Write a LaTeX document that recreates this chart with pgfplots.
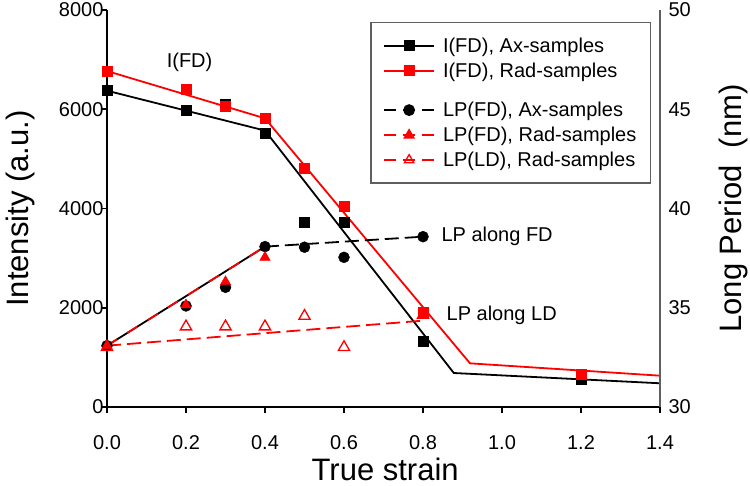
\documentclass[border=0pt]{standalone}
\usepackage{pgfplots}
\pgfplotsset{compat=1.18}
\usepackage{fontspec}
\setmainfont{Liberation Sans}
\definecolor{rd}{RGB}{255,0,0}
\definecolor{axgrey}{RGB}{95,95,95}
\begin{document}
\begin{tikzpicture}[font=\fontsize{20bp}{24bp}\selectfont]
\pgfplotsset{
  base/.style={
    width=553bp, height=397bp, scale only axis,
    at={(0,0)}, anchor=south west,
    xmin=0, xmax=1.4,
    /pgf/number format/assume math mode=true,
    /pgf/number format/1000 sep={},
    tick label style={font=\fontsize{20bp}{24bp}\selectfont},
    clip=false,
    tick align=outside,
    scaled ticks=false,
  },
}
\begin{axis}[base,
  axis x line*=bottom, axis y line*=left,
  ymin=0, ymax=8000,
  ytick={0,2000,4000,6000,8000},
  xtick={0,0.2,0.4,0.6,0.8,1.0,1.2,1.4},
  xticklabel style={/pgf/number format/fixed,/pgf/number format/fixed zerofill,/pgf/number format/precision=1, yshift=-19bp},
  yticklabel style={xshift=6bp},
  major tick length=6bp,
  tick style={line width=1.5bp, black},
  axis line style={line width=1.8bp, black},
  xlabel={True strain},
  ylabel={Intensity (a.u.)},
  every axis x label/.style={at={(axis description cs:0.503,-0.158)},anchor=center,font=\fontsize{31bp}{36bp}\selectfont},
  every axis y label/.style={at={(axis description cs:-0.157,0.5)},anchor=center,rotate=90,font=\fontsize{31bp}{36bp}\selectfont},
]
\addplot[black, line width=1.8bp, forget plot] coordinates {(0,6374)(0.4,5570)(0.878,685)(1.4,478)};
\addplot[rd, line width=1.8bp, forget plot] coordinates {(0,6770)(0.4,5817)(0.919,880)(1.4,631)};
\addplot[only marks, mark=square*, mark size=5bp, black, forget plot] coordinates {
(0,6374)(0.2,5985)(0.3,6110)(0.4,5527)(0.5,3734)(0.6,3734)(0.8,1316)(1.2,564)};
\addplot[only marks, mark=square*, mark size=5bp, rd, forget plot] coordinates {
(0,6770)(0.2,6408)(0.3,6065)(0.4,5817)(0.5,4822)(0.6,4056)(0.8,1920)(1.2,665)};
\node[anchor=center] at (axis cs:0.209,6952) {I(FD)};
\node[anchor=base west] at (axis cs:0.838,3345) {LP along FD};
\node[anchor=base west] at (axis cs:0.851,1753) {LP along LD};
\end{axis}
\begin{axis}[base,
  axis y line*=right, axis x line=none,
  ymin=30, ymax=50, ytick={30,35,40,45,50},
  major tick length=0pt,
  yticklabel style={xshift=5bp},
  y axis line style={draw=axgrey, line width=1.5bp},
  ylabel={Long Period\ \ (nm)},
  every axis y label/.style={at={(axis description cs:1.132,0.5)},anchor=center,rotate=90,font=\fontsize{31bp}{36bp}\selectfont},
  legend style={at={(axis description cs:0.984,0.970)}, anchor=north east,
    draw=axgrey, line width=1.5bp, font=\fontsize{20bp}{24bp}\selectfont,
    inner xsep=12bp, inner ysep=13bp, row sep=5bp, column sep=6bp,
    nodes={inner sep=2bp}, cells={anchor=west}},
  legend image code/.code={\draw[mark repeat=2,mark phase=2,#1] plot coordinates {(0bp,0bp)(25bp,0bp)(50bp,0bp)};},
]
% LP(FD) Ax line
\addplot[black, line width=1.8bp, forget plot] coordinates {(0,33.09)(0.4,38.08)};
\addplot[black, line width=1.8bp, dash pattern=on 14bp off 6bp, forget plot] coordinates {(0.4,38.08)(0.8,38.58)};
% LP(FD) Rad line (dashes over the black)
\addplot[rd, line width=1.8bp, dash pattern=on 12bp off 12bp, forget plot] coordinates {(0,33.09)(0.4,38.08)};
% LP(LD) Rad line
\addplot[rd, line width=1.8bp, dash pattern=on 14bp off 6bp, forget plot] coordinates {(0,33.09)(0.8,34.35)};
% markers
\addplot[only marks, mark=*, mark size=5.5bp, black, forget plot] coordinates {
(0,33.09)(0.2,35.09)(0.3,36.03)(0.4,38.08)(0.5,38.05)(0.6,37.54)(0.8,38.58)};
\addplot[only marks, mark=triangle*, mark size=6bp, rd, forget plot] coordinates {
(0,33.09)(0.2,35.14)(0.3,36.31)(0.4,37.54)};
\addplot[only marks, mark=triangle, mark size=6.5bp, rd, mark options={fill=white, line width=1.3bp}, forget plot] coordinates {
(0,33.01)(0.2,34.05)(0.3,34.05)(0.4,34.05)(0.5,34.58)(0.6,33.01)(0.8,34.63)};
% legend
\addlegendimage{black, line width=1.8bp, mark=square*, mark size=4.5bp}
\addlegendentry{I(FD), Ax-samples}
\addlegendimage{rd, line width=1.8bp, mark=square*, mark size=4.5bp}
\addlegendentry{I(FD), Rad-samples}
\addlegendimage{empty legend}
\addlegendentry{\rule{0pt}{4bp}}
\addlegendimage{black, line width=1.8bp, dash pattern=on 12bp off 7bp, mark=*, mark size=5bp, mark options={solid}}
\addlegendentry{LP(FD), Ax-samples}
\addlegendimage{rd, line width=1.8bp, dash pattern=on 12bp off 7bp, mark=triangle*, mark size=5bp, mark options={solid}}
\addlegendentry{LP(FD), Rad-samples}
\addlegendimage{rd, line width=1.8bp, dash pattern=on 12bp off 7bp, mark=triangle, mark size=5.5bp, mark options={solid, fill=white, line width=1.3bp}}
\addlegendentry{LP(LD), Rad-samples}
\end{axis}
\pgfresetboundingbox
\path (-107bp,-79bp) rectangle (643bp,407bp);
\end{tikzpicture}
\end{document}
